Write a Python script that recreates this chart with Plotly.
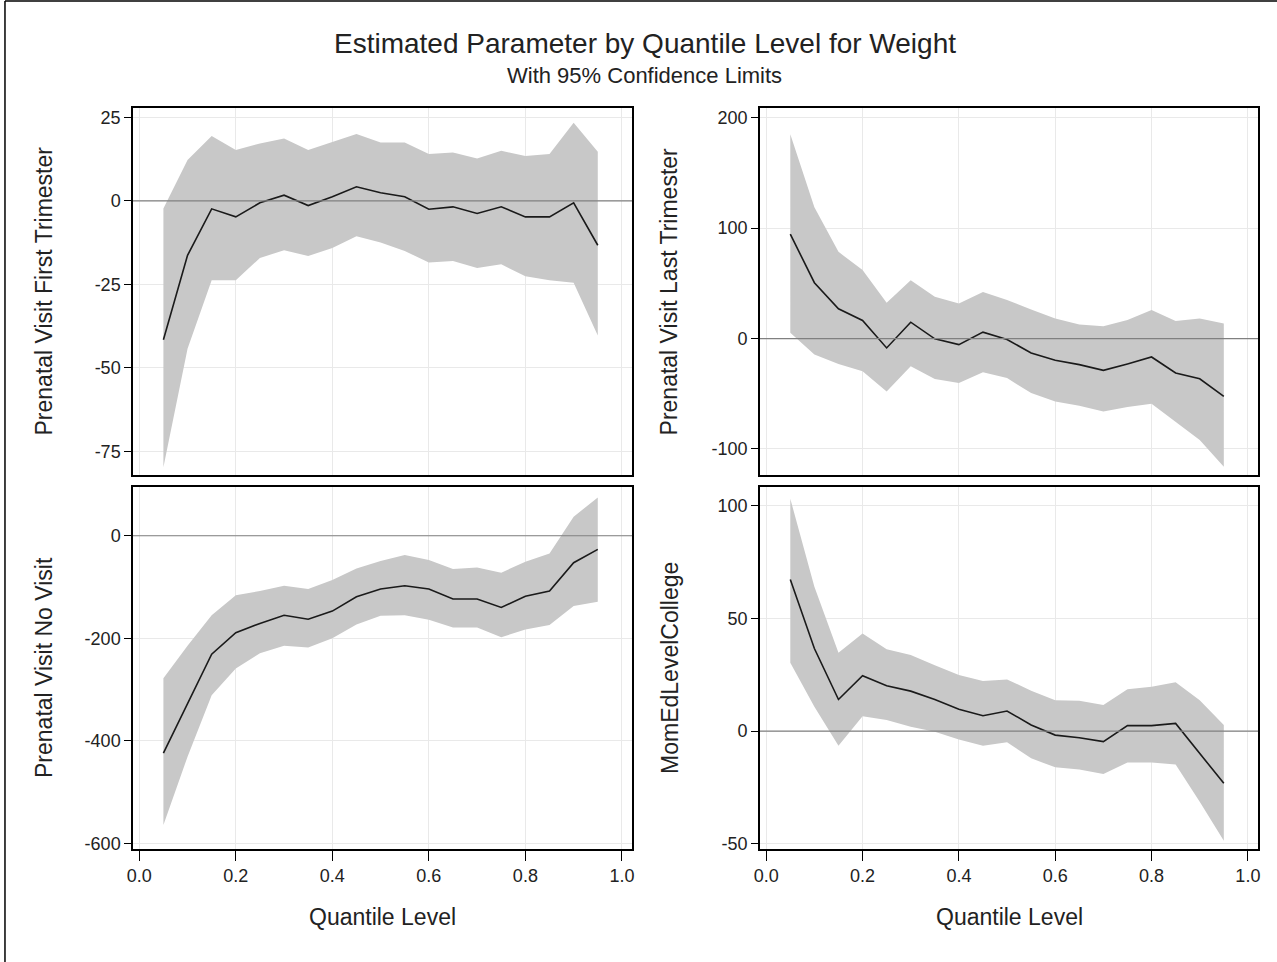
import plotly.graph_objects as go

quantile = [0.05, 0.10, 0.15, 0.20, 0.25, 0.30, 0.35, 0.40, 0.45, 0.50,
            0.55, 0.60, 0.65, 0.70, 0.75, 0.80, 0.85, 0.90, 0.95]

first_est = [-41.6, -16.3, -2.4, -4.8, -0.6, 1.7, -1.4, 1.2, 4.2, 2.4,
             1.2, -2.5, -1.8, -3.8, -1.8, -4.8, -4.8, -0.6, -13.3]
first_upper = [-2.3, 12.2, 19.4, 15.2, 17.2, 18.7, 15.2, 17.7, 20.0, 17.5,
               17.5, 14.0, 14.5, 12.7, 15.0, 13.4, 14.0, 23.4, 14.7]
first_lower = [-79.8, -44.3, -23.8, -23.8, -17.1, -14.8, -16.5, -14.1, -10.6, -12.5,
               -15.0, -18.5, -18.0, -20.1, -19.0, -22.6, -23.8, -24.5, -40.3]

last_est = [94.5, 50.6, 27.0, 16.4, -8.5, 14.8, -0.3, -5.5, 5.8, -0.9,
            -13.0, -19.7, -23.6, -28.8, -23.0, -16.7, -31.2, -36.4, -52.4]
last_upper = [185, 119, 78.5, 62, 32.4, 52.7, 37.9, 31.8, 42.1, 34.8,
              26.4, 18.2, 12.7, 11.2, 16.7, 25.8, 15.8, 18.2, 13.6]
last_lower = [5.2, -14.5, -23, -29.7, -47.9, -25.2, -36.7, -40.3, -30.6, -35.8,
              -49.4, -57, -60.9, -66, -62.1, -59.1, -75.2, -91.8, -116]

novisit_est = [-424, -326, -231, -189, -171, -155, -163, -147, -119, -104,
               -97.5, -104, -123.5, -123.5, -140, -118, -108, -52.7, -26.7]
novisit_upper = [-278, -214.5, -155, -116, -108, -97.5, -104, -86.5, -63.7, -49.4,
                 -37.7, -47.5, -65, -61.8, -72, -50.7, -34.5, 37, 74.8]
novisit_lower = [-564, -431, -311, -259, -229, -214.5, -218, -200, -173, -156,
                 -155, -164, -179, -179, -198, -183, -174, -137, -129]

college_est = [67.2, 36.6, 14.0, 24.5, 20.1, 17.7, 14.0, 9.7, 6.8, 8.9,
               2.7, -1.8, -3.0, -4.7, 2.4, 2.4, 3.4, -9.9, -23.2]
college_upper = [103, 64, 34.7, 43.3, 36.3, 33.7, 29.2, 24.8, 22.2, 22.9,
                 17.9, 13.7, 13.4, 11.5, 18.5, 19.6, 21.6, 13.7, 2.7]
college_lower = [30.3, 10.8, -6.5, 6.6, 4.9, 1.9, -0.3, -3.7, -6.5, -5.0,
                 -12.1, -16.1, -17.0, -19.0, -14.0, -14.0, -14.8, -31.3, -48.6]

panel_titles = ["Prenatal Visit First Trimester", "Prenatal Visit Last Trimester",
                "Prenatal Visit No Visit", "MomEdLevelCollege"]
x_ticks = [0.0, 0.2, 0.4, 0.6, 0.8, 1.0]
y_ticks = [[-75, -50, -25, 0, 25], [-100, 0, 100, 200],
           [-600, -400, -200, 0], [-50, 0, 50, 100]]
y_ranges = [[-82.1, 27.8], [-123.6, 208.8], [-611, 95], [-52.3, 108.2]]

panels = [(first_est, first_upper, first_lower),
          (last_est, last_upper, last_lower),
          (novisit_est, novisit_upper, novisit_lower),
          (college_est, college_upper, college_lower)]

FONT = "Liberation Sans, Arial, sans-serif"
TXT = "#222"
fig = go.Figure()

for i, (est, up, lo) in enumerate(panels):
    xa = "x" if i == 0 else f"x{i+1}"
    ya = "y" if i == 0 else f"y{i+1}"
    fig.add_trace(go.Scatter(
        x=quantile + quantile[::-1], y=up + lo[::-1],
        fill="toself", fillcolor="#c8c8c8", line=dict(width=0),
        mode="lines", hoverinfo="skip", showlegend=False, xaxis=xa, yaxis=ya))
    fig.add_trace(go.Scatter(
        x=quantile, y=est, mode="lines", line=dict(color="#1a1a1a", width=1.6),
        showlegend=False, xaxis=xa, yaxis=ya))
    fig.add_shape(type="line", xref=f"{xa} domain", yref=ya, x0=0, x1=1, y0=0, y1=0,
                  line=dict(color="#808080", width=1.2), layer="above")

xdom = [[0, 0.4436], [0.5573, 1], [0, 0.4436], [0.5573, 1]]
ydom = [[0.5047, 1], [0.5047, 1], [0, 0.4885], [0, 0.4885]]

layout = dict(
    width=1277, height=962,
    margin=dict(l=133, r=19, t=108, b=113),
    paper_bgcolor="white", plot_bgcolor="white",
    font=dict(family=FONT, size=15, color="black"),
    showlegend=False,
)
for i in range(4):
    xk = "xaxis" if i == 0 else f"xaxis{i+1}"
    yk = "yaxis" if i == 0 else f"yaxis{i+1}"
    ya = "y" if i == 0 else f"y{i+1}"
    xa = "x" if i == 0 else f"x{i+1}"
    bottom = i >= 2
    layout[xk] = dict(
        domain=xdom[i], anchor=ya, range=[-0.013, 1.021],
        tickvals=x_ticks, ticktext=[f"{v:.1f}" for v in x_ticks], showticklabels=bottom,
        ticks="outside" if bottom else "", ticklen=10, tickcolor="black",
        showgrid=True, gridcolor="#e9e9e9", gridwidth=1, zeroline=False,
        showline=True, linecolor="black", linewidth=1.5, mirror=True,
        tickfont=dict(size=18, family=FONT, color=TXT))
    layout[yk] = dict(
        domain=ydom[i], anchor=xa, range=y_ranges[i],
        tickvals=y_ticks[i], ticktext=[str(v) for v in y_ticks[i]],
        ticks="outside", ticklen=7, tickcolor="black",
        showgrid=True, gridcolor="#e9e9e9", gridwidth=1, zeroline=False,
        showline=True, linecolor="black", linewidth=1.5, mirror=True,
        tickfont=dict(size=18, family=FONT, color=TXT))

fig.update_layout(**layout)

annots = [
    dict(text="Estimated Parameter by Quantile Level for Weight", x=0.4551, y=1.0864,
         font=dict(size=28, family=FONT, color=TXT)),
    dict(text="With 95% Confidence Limits", x=0.4551, y=1.0445,
         font=dict(size=22, family=FONT, color=TXT)),
    dict(text="Quantile Level", x=0.222, y=-0.0918, font=dict(size=23, family=FONT, color=TXT)),
    dict(text="Quantile Level", x=0.7787, y=-0.0918, font=dict(size=23, family=FONT, color=TXT)),
]
ytitle_pos = [(-0.0791, 0.7524), (0.4773, 0.7524), (-0.0791, 0.2443), (0.4773, 0.2443)]
for t, (px, py) in zip(panel_titles, ytitle_pos):
    annots.append(dict(text=t, x=px, y=py, textangle=-90,
                       font=dict(size=23, family=FONT, color=TXT)))
for a in annots:
    a.update(xref="paper", yref="paper", showarrow=False, xanchor="center", yanchor="middle")
fig.update_layout(annotations=annots)

# outer frame (left and top edges)
fig.add_shape(type="line", xref="paper", yref="paper", x0=-0.1138, x1=-0.1138,
              y0=-0.16, y1=1.1444, line=dict(color="black", width=1.5))
fig.add_shape(type="line", xref="paper", yref="paper", x0=-0.1138, x1=1.02,
              y0=1.1444, y1=1.1444, line=dict(color="black", width=1.5))

fig.write_html("out.html")
